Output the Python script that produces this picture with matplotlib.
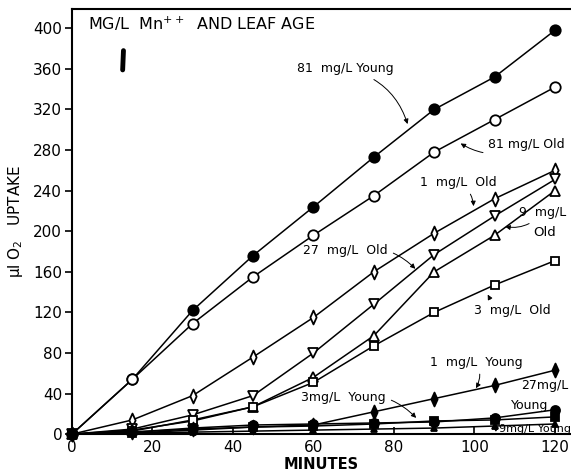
import numpy as np
import matplotlib.pyplot as plt
from matplotlib.path import Path

minutes = [0, 15, 30, 45, 60, 75, 90, 105, 120]

young_81 = [0, 54, 122, 176, 224, 273, 320, 352, 398]
old_81 = [0, 54, 109, 155, 196, 235, 278, 310, 342]
old_1 = [0, 14, 38, 76, 115, 160, 198, 232, 260]
old_27 = [0, 5, 19, 38, 80, 128, 177, 215, 251]
old_9 = [0, 4, 13, 27, 56, 97, 160, 196, 240]
old_3 = [0, 3, 14, 27, 51, 87, 120, 147, 171]
young_1 = [0, 2, 5, 7, 9, 22, 35, 48, 63]
young_27 = [0, 2, 6, 9, 10, 11, 12, 16, 24]
young_3 = [0, 1, 4, 7, 8, 10, 13, 14, 17]
young_9 = [0, 1, 2, 3, 4, 5, 6, 8, 10]

x_ticks = [0, 20, 40, 60, 80, 100, 120]
y_ticks = [0, 40, 80, 120, 160, 200, 240, 280, 320, 360, 400]

thin_diamond = Path([(0, 1), (0.45, 0), (0, -1), (-0.45, 0), (0, 1)],
                    [Path.MOVETO, Path.LINETO, Path.LINETO, Path.LINETO, Path.CLOSEPOLY])

plt.rcParams['font.family'] = ['DejaVu Sans']

fig = plt.figure(figsize=(5.71, 4.75), dpi=100)
ax = fig.add_axes([0.126, 0.086, 0.874, 0.895])

series = [
    (young_81, 'o', 'black', 7.5),
    (old_81, 'o', 'white', 7.5),
    (old_1, thin_diamond, 'white', 10),
    (old_27, 'v', 'white', 6.5),
    (old_9, '^', 'white', 6.5),
    (old_3, 's', 'white', 6),
    (young_1, thin_diamond, 'black', 10),
    (young_27, 'o', 'black', 6.5),
    (young_3, 's', 'black', 6),
    (young_9, '^', 'black', 5),
]
for vals, mk, fc, ms in series:
    ax.plot(minutes, vals, color='black', lw=1.1, marker=mk, ms=ms,
            mfc=fc, mec='black', mew=1.3, clip_on=False, zorder=3)

ax.set_xlim(0, 124)
ax.set_ylim(0, 419)
ax.set_xticks(x_ticks)
ax.set_yticks(y_ticks)
ax.tick_params(axis='y', direction='out', length=5, width=1.2, labelsize=11, pad=2)
ax.tick_params(axis='x', direction='in', length=5, width=1.2, labelsize=11, pad=4)
for s in ['left', 'bottom', 'top']:
    ax.spines[s].set_linewidth(1.5)
ax.spines['right'].set_visible(False)

ax.set_xlabel('MINUTES', fontsize=10.5, fontweight='bold', labelpad=2)
ax.set_ylabel('µl O$_2$   UPTAKE', fontsize=11, labelpad=6)

ax.text(4, 404, 'MG/L  Mn$^{++}$  AND LEAF AGE', fontsize=11.5, va='center', ha='left')
# scale bar
ax.plot([12.8, 12.6], [378, 359], color='black', lw=3.5, solid_capstyle='round')

arrow = dict(arrowstyle='-|>', color='black', lw=0.7, mutation_scale=7,
             connectionstyle='arc3,rad=-0.3')
labels = [
    ('81  mg/L Young', (56, 360), (83.6, 303), 9),
    ('81 mg/L Old', (103.5, 285), (96, 288), 9),
    ('1  mg/L  Old', (86.5, 248), (99.8, 222), 9),
    ('9  mg/L', (111, 218), (107, 205), 9),
    ('27  mg/L  Old', (57.5, 181), (85.8, 161), 9),
    ('3  mg/L  Old', (100, 122), (103, 140), 9),
    ('1  mg/L  Young', (89, 71), (100, 43), 9),
    ('3mg/L  Young', (57, 36), (86, 14), 9),
    ('9mg/L Young', (106, 5), (104, 9), 8),
]
for txt, xy_text, xy, fs in labels:
    ax.annotate(txt, xy=xy, xytext=xy_text, fontsize=fs, va='center', ha='left',
                arrowprops=arrow, annotation_clip=False)
ax.text(114.5, 199, 'Old', fontsize=9.5, va='center', ha='left')
ax.text(111.5, 48, '27mg/L', fontsize=9, va='center', ha='left')
ax.text(109, 28, 'Young', fontsize=9, va='center', ha='left')

fig.savefig('out.png', dpi=100)
